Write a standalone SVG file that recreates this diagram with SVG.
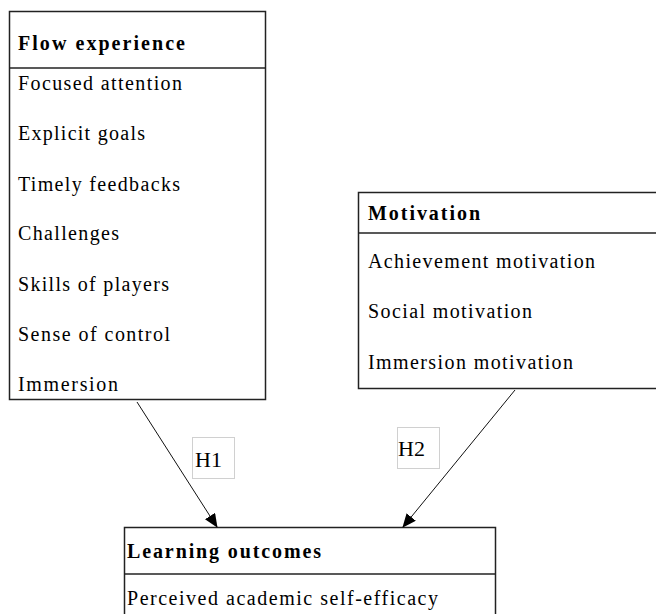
<svg xmlns="http://www.w3.org/2000/svg" width="656" height="614" viewBox="0 0 656 614">
<style>
.box{fill:#fff;stroke:#222;stroke-width:1.5}
.div{stroke:#222;stroke-width:1.5}
.t{font-family:"Liberation Serif","Times New Roman",serif;font-size:20px;fill:#000}
.b{font-weight:bold}
.h{font-size:22px}
.conn{stroke:#111;stroke-width:1;fill:none}
.lbl{fill:#fff;stroke:#d0d0d0;stroke-width:1}
</style>
<defs>
<marker id="ah" markerWidth="14" markerHeight="12" refX="13" refY="6" orient="auto" markerUnits="userSpaceOnUse">
<path d="M0,0 L14,6 L0,12 z" fill="#000"/>
</marker>
</defs>
<rect width="656" height="614" fill="#fff"/>
<g id="flow">
<rect class="box" x="9.5" y="11.5" width="256" height="388"/>
<line class="div" x1="9.5" y1="68" x2="265.5" y2="68"/>
<text class="t b" x="18" y="50" textLength="167" lengthAdjust="spacing">Flow experience</text>
<text class="t" x="18" y="90" textLength="164" lengthAdjust="spacing">Focused attention</text>
<text class="t" x="18" y="140" textLength="127" lengthAdjust="spacing">Explicit goals</text>
<text class="t" x="18" y="191" textLength="162" lengthAdjust="spacing">Timely feedbacks</text>
<text class="t" x="18" y="240" textLength="101" lengthAdjust="spacing">Challenges</text>
<text class="t" x="18" y="291" textLength="151" lengthAdjust="spacing">Skills of players</text>
<text class="t" x="18" y="341" textLength="152" lengthAdjust="spacing">Sense of control</text>
<text class="t" x="18" y="391" textLength="100" lengthAdjust="spacing">Immersion</text>
</g>
<g id="motivation">
<rect class="box" x="358.5" y="192.5" width="310" height="196"/>
<line class="div" x1="358.5" y1="233" x2="656" y2="233"/>
<text class="t b" x="368" y="220" textLength="112" lengthAdjust="spacing">Motivation</text>
<text class="t" x="368" y="268" textLength="227" lengthAdjust="spacing">Achievement motivation</text>
<text class="t" x="368" y="318" textLength="164" lengthAdjust="spacing">Social motivation</text>
<text class="t" x="368" y="369" textLength="205" lengthAdjust="spacing">Immersion motivation</text>
</g>
<g id="learning">
<rect class="box" x="124.5" y="527.5" width="371" height="100"/>
<line class="div" x1="124.5" y1="574" x2="495.5" y2="574"/>
<text class="t b" x="127" y="558" textLength="194" lengthAdjust="spacing">Learning outcomes</text>
<text class="t" x="127" y="605" textLength="311" lengthAdjust="spacing">Perceived academic self-efficacy</text>
</g>
<g id="connectors">
<line class="conn" x1="137" y1="402" x2="217" y2="527" marker-end="url(#ah)"/>
<line class="conn" x1="515" y1="390" x2="403" y2="527" marker-end="url(#ah)"/>
</g>
<g id="label-h1">
<rect class="lbl" x="192.5" y="437.5" width="42" height="41"/>
<text class="t h" x="195" y="467">H1</text>
</g>
<g id="label-h2">
<rect class="lbl" x="397.5" y="427.5" width="42" height="41"/>
<text class="t h" x="398" y="456">H2</text>
</g>
</svg>
